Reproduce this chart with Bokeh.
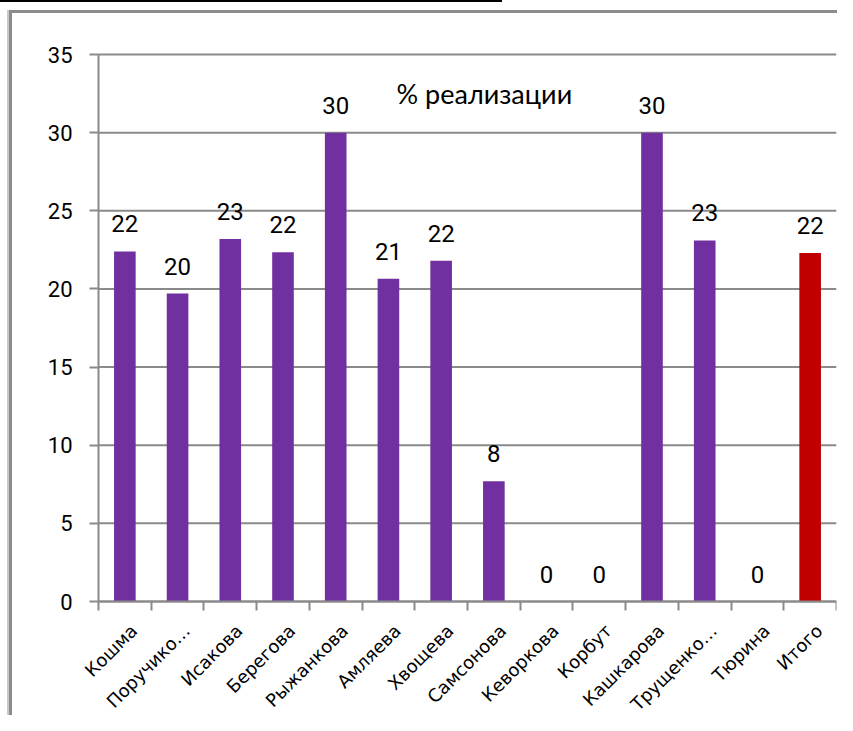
import numpy as np
from bokeh.plotting import figure
from bokeh.models import ColumnDataSource, LabelSet, Label, FixedTicker, Range1d
from bokeh.core.properties import value
from bokeh.embed import file_html
from bokeh.resources import INLINE

categories = ["Кошма", "Поручико…", "Исакова", "Берегова", "Рыжанкова", "Амляева",
              "Хвощева", "Самсонова", "Кеворкова", "Корбут", "Кашкарова", "Трущенко…",
              "Тюрина", "Итого"]
values = [22.4, 19.7, 23.2, 22.35, 30.0, 20.65, 21.8, 7.7, 0.0, 0.0, 30.0, 23.1, 0.0, 22.3]
colors = ["#7030A0"] * 13 + ["#C00000"]
y_ticks = [0, 5, 10, 15, 20, 25, 30, 35]
title_text = "% реализации"

n = len(categories)

# layout (pixels)
W, H = 837, 715
axis_x, top_tick_px, axis_y = 98, 54, 601
frame_left, frame_right, frame_top = 12, W - 1, 20
y_max = 35
px_per_unit = (axis_y - top_tick_px) / y_max
px_per_cat = (frame_right - axis_x) / n
y_min = -(H - axis_y) / px_per_unit                 # frame extends below the axis for labels
y_top = y_max + (top_tick_px - frame_top) / px_per_unit  # and above the top tick
x_min = -(axis_x - frame_left) / px_per_cat         # and left of the y axis for its labels
cat_label_drop = 26                                 # px below the axis for category labels

xs = [i + 0.5 for i in range(n)]
labels = [str(int(round(v))) for v in values]
cat_y = [-cat_label_drop / px_per_unit] * n

src = ColumnDataSource(dict(x=xs, top=values, color=colors, label=labels,
                            cat=categories, cat_y=cat_y))
grid_src = ColumnDataSource(dict(y=y_ticks, x0=[0] * len(y_ticks), x1=[n] * len(y_ticks)))

p = figure(width=W, height=H, output_backend="svg", toolbar_location=None,
           x_range=Range1d(x_min, n), y_range=Range1d(y_min, y_top),
           min_border_left=frame_left, min_border_top=frame_top,
           min_border_right=W - frame_right, min_border_bottom=0)
p.outline_line_color = None
p.background_fill_color = "white"
p.border_fill_color = None

grid_col = "#8a8a8a"
p.xgrid.visible = False
p.ygrid.visible = False
p.segment(x0="x0", x1="x1", y0="y", y1="y", source=grid_src,
          line_color=grid_col, line_width=2)

p.vbar(x="x", top="top", width=0.41, bottom=0, fill_color="color", source=src,
       line_color=None)

p.yaxis.fixed_location = 0
p.yaxis.ticker = FixedTicker(ticks=y_ticks)
p.yaxis.bounds = (0, y_max)
p.yaxis.axis_line_color = grid_col
p.yaxis.axis_line_width = 2
p.yaxis.major_tick_line_color = grid_col
p.yaxis.major_tick_line_width = 2
p.yaxis.major_tick_out = 9
p.yaxis.major_tick_in = 0
p.yaxis.minor_tick_line_color = None
p.yaxis.major_label_text_font = "Roboto"
p.yaxis.major_label_text_font_size = "22px"
p.yaxis.major_label_text_color = "black"
p.yaxis.major_label_standoff = 17

p.xaxis.fixed_location = 0
p.xaxis.bounds = (0, n)
p.xaxis.ticker = FixedTicker(ticks=[], minor_ticks=list(range(n + 1)))
p.xaxis.axis_line_color = grid_col
p.xaxis.axis_line_width = 2
p.xaxis.major_tick_line_color = None
p.xaxis.minor_tick_line_color = grid_col
p.xaxis.minor_tick_line_width = 2
p.xaxis.minor_tick_out = 9
p.xaxis.minor_tick_in = 0

# category labels, rotated 45 degrees, right end under each category
p.text(x="x", y="cat_y", text="cat", source=src, x_offset=9, angle=np.pi / 4,
       text_align="right", text_baseline="middle",
       text_font=value("DejaVu Sans"), text_font_size="18px", text_color="black")

p.add_layout(LabelSet(x="x", y="top", text="label", source=src, y_offset=19,
                      text_align="center", text_baseline="alphabetic",
                      text_font=value("Roboto"), text_font_size="24px", text_color="black"))

p.add_layout(Label(x=7.32, y=32.5, text=title_text, text_align="center",
                   text_baseline="alphabetic", text_font="Lato",
                   text_font_size="27px", text_color="black"))

p.styles = {"background": (
    "linear-gradient(#000,#000) 0 0 / 502px 2px no-repeat, "
    "linear-gradient(#c8c8c8,#c8c8c8) 7px 10px / 2px 100% no-repeat, "
    "linear-gradient(#8c8c8c,#8c8c8c) 9px 10px / 3px 100% no-repeat, "
    "linear-gradient(#8c8c8c,#8c8c8c) 9px 10px / 100% 3px no-repeat, #ffffff")}

open("out.html", "w").write(file_html(p, INLINE))
